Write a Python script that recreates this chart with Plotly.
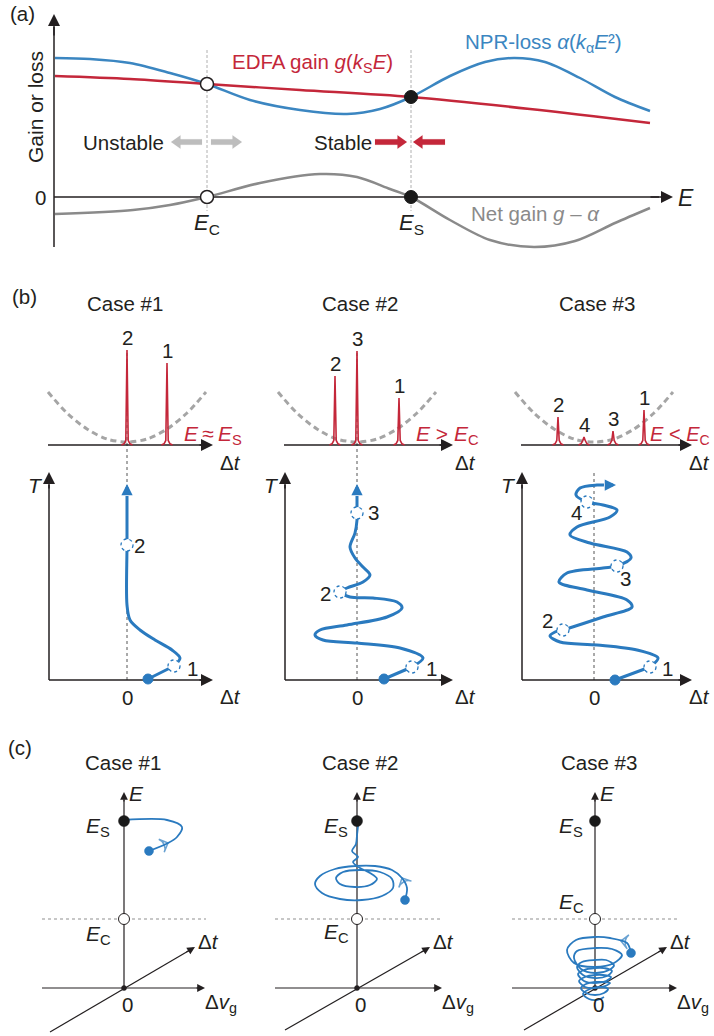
import plotly.graph_objects as go

# ===================== DATA (schematic units) =====================
# ---- Panel (a): gain / loss versus pulse energy E ----
npr_E = [0.1, 3.6, 7.6, 11.6, 15.3, 19.6, 24.6, 29.3, 32.6, 35.7, 39.6, 43.1, 46.0, 49.1, 52.6, 56.1, 59.6]
npr_loss = [13.9, 13.8, 13.4, 12.4, 11.3, 9.7, 8.7, 8.3, 8.8, 10.0, 12.1, 13.5, 13.9, 13.5, 11.9, 10.0, 8.6]
edfa_E = [0.1, 7.6, 15.3, 24.6, 35.7, 47.6, 59.6]
edfa_gain = [12.1, 11.8, 11.3, 10.7, 10.0, 8.8, 7.4]
net_E = [0.1, 7.9, 11.6, 15.3, 20.6, 26.6, 30.3, 33.6, 35.7, 39.6, 43.6, 48.0, 52.1, 56.1, 59.6]
net_gain = [-1.7, -1.3, -0.8, 0.0, 1.4, 2.3, 2.0, 0.8, 0.0, -2.3, -4.3, -5.0, -4.4, -2.6, -1.1]
fixed_E = [15.3, 35.7]          # E_C (unstable), E_S (stable)
fixed_gain = [11.3, 10.0]
fixed_names = ["C", "S"]

# ---- Panel (b): pulse positions in the NPR well and T-evolution of delta-t ----
well_dt = [-7.9, -6.0, -4.0, -2.0, 0.0, 2.0, 4.0, 6.0, 7.9]
well_h = [5.3, 3.2, 1.6, 0.6, 0.3, 0.6, 1.6, 3.2, 5.3]

pulse_dt_1 = [0.0, 4.0]
pulse_h_1 = [9.5, 8.2]
pulse_lab_1 = ["2", "1"]
pulse_dt_2 = [-2.2, 0.0, 4.2]
pulse_h_2 = [6.9, 9.4, 4.7]
pulse_lab_2 = ["2", "3", "1"]
pulse_dt_3 = [-3.6, -1.0, 1.9, 5.0]
pulse_h_3 = [2.8, 0.8, 1.4, 3.5]
pulse_lab_3 = ["2", "4", "3", "1"]
energy_lab = ["<i>E</i>\u2009\u2248\u2009<i>E</i><sub>S</sub>",
              "<i>E</i> > <i>E</i><sub>C</sub>",
              "<i>E</i> < <i>E</i><sub>C</sub>"]

traj_dt_1 = [2.1, 4.7, 5.3, 4.5, 2.8, 1.3, 0.3, 0.0, 0.0, 0.0]
traj_T_1 = [0.1, 1.4, 2.2, 3.0, 4.0, 5.0, 6.0, 7.5, 13.5, 18.4]
traj_dt_2 = [2.7, 5.5, 6.6, 4.3, 0.0, -3.4, -4.2, -3.7, -1.0, 3.0, 4.5, 4.0, 1.6, -0.7, -1.7,
             -1.0, 0.6, 1.3, 0.6, -0.2, -0.7, -0.2, 0.0, 0.0, 0.0]
traj_T_2 = [0.1, 1.3, 2.2, 3.2, 3.7, 4.0, 4.5, 5.0, 5.5, 6.3, 7.2, 7.8, 8.2, 8.3, 8.8,
            9.2, 9.8, 10.5, 11.3, 12.2, 13.3, 14.7, 16.0, 16.7, 18.4]
traj_dt_3 = [2.1, 5.6, 6.4, 4.3, 0.3, -3.4, -4.4, -3.9, -3.1, 0.9, 3.8, 3.3, -0.7, -3.5, -2.7,
             0.9, 2.3, 3.7, 3.3, -0.4, -2.4, -1.7, 1.6, 2.3, 0.9, -0.7, -1.8, -1.4, 0.3, 1.0]
traj_T_3 = [0.0, 1.3, 2.2, 3.0, 3.5, 3.8, 4.4, 4.8, 5.0, 6.3, 7.3, 8.0, 9.0, 9.8, 10.7,
            11.2, 11.4, 12.2, 12.8, 13.7, 14.5, 15.3, 16.3, 17.0, 17.5, 17.8, 18.5, 19.2, 19.5, 19.5]
traj_tip_1 = (0.0, 19.6)
traj_tip_2 = (0.0, 19.6)
traj_tip_3 = (2.2, 19.5)

snap_dt_1 = [4.7, 0.0]
snap_T_1 = [1.4, 13.5]
snap_lab_1 = ["1", "2"]
snap_lab_dt_1 = [6.5, 1.2]
snap_lab_T_1 = [1.2, 13.5]
snap_dt_2 = [5.5, -1.7, 0.0]
snap_T_2 = [1.3, 8.8, 16.7]
snap_lab_2 = ["1", "2", "3"]
snap_lab_dt_2 = [7.4, -3.2, 1.6]
snap_lab_T_2 = [1.2, 8.7, 16.8]
snap_dt_3 = [5.6, -3.1, 2.3, -0.7]
snap_T_3 = [1.3, 5.0, 11.4, 17.8]
snap_lab_3 = ["1", "2", "3", "4"]
snap_lab_dt_3 = [7.3, -4.7, 3.1, -1.8]
snap_lab_T_3 = [1.2, 6.0, 10.2, 16.8]

# ---- Panel (c): phase-space trajectories (delta v_g , E) ----
E_S_level = 16.7
E_C_level = 6.9
phase_v_1 = [2.5, 4.4, 5.3, 5.8, 4.3, 0.0]
phase_E_1 = [13.7, 14.5, 15.1, 16.1, 16.8, 16.8]
phase_v_2 = [4.8, 5.0, 4.5, 3.5, 1.8, -0.2, -2.2, -3.7, -4.2, -3.5, -1.7, 0.5, 2.5, 3.6, 3.5, 2.3,
             0.3, -1.4, -2.1, -1.7, -0.2, 1.3, 2.0, 1.3, 0.3, -0.4, 0.1, -0.5, -0.1, 0.0, 0.1, 0.1]
phase_E_2 = [8.8, 10.0, 11.0, 11.8, 12.2, 12.2, 11.9, 11.2, 10.4, 9.5, 8.9, 8.8, 9.2, 10.0, 10.9, 11.6,
             11.8, 11.6, 11.0, 10.4, 10.1, 10.3, 10.9, 11.5, 12.0, 12.6, 13.1, 13.7, 14.4, 15.3, 16.2, 16.8]
phase_v_3 = [3.6, 3.2, 1.5, 0.0, -1.9, -2.8, -2.1, 0.0, 1.9, 2.7, 1.7, 0.0, -1.8, -2.1, -1.4, 0.0,
             1.4, 1.9, 1.1, 0.0, -1.3, -1.8, -1.2, 0.0, 1.2, 1.7, 0.9, 0.0, -1.1, -1.7, -1.1, 0.0,
             1.1, 1.6, 0.8, 0.0, -1.0, -1.6, -1.0, 0.0, 1.0, 1.5, 0.8, 0.0, -0.9, -1.4, -0.9, 0.0,
             0.9, 1.3, 0.6, -0.5, -1.2, -0.6, 0.2, 0.9]
phase_E_3 = [3.5, 4.5, 5.0, 5.1, 4.8, 3.8, 2.5, 2.1, 2.5, 3.3, 3.9, 4.0, 3.7, 3.0, 1.9, 1.5,
             1.8, 2.3, 2.8, 2.8, 2.6, 2.1, 1.3, 1.0, 1.2, 1.7, 2.0, 2.0, 1.8, 1.4, 0.7, 0.5,
             0.7, 1.1, 1.3, 1.3, 1.1, 0.7, 0.1, 0.0, 0.2, 0.5, 0.6, 0.6, 0.4, 0.0, -0.5, -0.7,
             -0.5, -0.1, 0.1, -0.1, -0.6, -1.1, -1.2, -0.9]
phase_arrow_1 = ([2.5, 4.4], [13.7, 14.5])
phase_arrow_2 = ([5.0, 4.5], [10.0, 11.0])
phase_arrow_3 = ([3.4, 2.6], [4.6, 4.7])

# ===================== STYLE / LAYOUT =====================
FONT = "Liberation Sans, Arial, Helvetica, sans-serif"
INK = "#231f20"
BLUE_A = "#3b86c1"
RED = "#c4273a"
GREY = "#8a8a8a"
TRAJ = "#2a7abf"
FS = 20.5
W, H = 714, 1036
S = 10.0  # pixels per schematic unit (same on both axes)

# axis number: (left, right, top, bottom, origin_x, origin_y) in pixels
panels = {
    1: (0, 714, 0, 262, 54, 197),
    2: (0, 240, 285, 712, 127, 680),
    3: (240, 476, 285, 712, 357, 680),
    4: (476, 714, 285, 712, 594, 680),
    5: (0, 240, 770, 1036, 124, 988),
    6: (240, 476, 770, 1036, 357, 988),
    7: (476, 714, 770, 1036, 595, 988),
}

fig = go.Figure()
layout = dict(width=W, height=H, margin=dict(l=0, r=0, t=0, b=0),
              paper_bgcolor="white", plot_bgcolor="rgba(0,0,0,0)",
              showlegend=False, font=dict(family=FONT, color=INK))
for n, (l, r, t, b, ox, oy) in panels.items():
    sx = "" if n == 1 else str(n)
    layout["xaxis" + sx] = dict(domain=[l / W, r / W], range=[(l - ox) / S, (r - ox) / S],
                               visible=False, fixedrange=True, anchor="y" + sx)
    layout["yaxis" + sx] = dict(domain=[1 - b / H, 1 - t / H], range=[(oy - b) / S, (oy - t) / S],
                               visible=False, fixedrange=True, anchor="x" + sx)

annotations = []
shapes = []


def refs(n):
    return ("x", "y") if n == 1 else (f"x{n}", f"y{n}")


def line(n, xs, ys, color, width, dash=None, spline=False, fill=None, mode="lines"):
    xr, yr = refs(n)
    fig.add_trace(go.Scatter(x=xs, y=ys, xaxis=xr, yaxis=yr, mode=mode, hoverinfo="skip",
                             line=dict(color=color, width=width, dash=dash,
                                       shape="spline" if spline else "linear", smoothing=0.9),
                             fill=fill, fillcolor=color if fill else None))


def markers(n, xs, ys, size, color, lcolor, lwidth=1.2):
    xr, yr = refs(n)
    fig.add_trace(go.Scatter(x=xs, y=ys, xaxis=xr, yaxis=yr, mode="markers", hoverinfo="skip",
                             marker=dict(size=size, color=color, line=dict(color=lcolor, width=lwidth))))


def arrow(n, x0, y0, x1, y1, color=INK, width=1.4, size=1.7, head=2):
    xr, yr = refs(n)
    annotations.append(dict(x=x1, y=y1, ax=x0, ay=y0, xref=xr, yref=yr, axref=xr, ayref=yr,
                            showarrow=True, arrowhead=head, arrowsize=size, arrowwidth=width,
                            arrowcolor=color, text="", standoff=0, startstandoff=0))


def text(n, x, y, s, size=FS, color=INK, xanchor="center", yanchor="middle", angle=0):
    xr, yr = refs(n)
    annotations.append(dict(x=x, y=y, xref=xr, yref=yr, text=s, showarrow=False, textangle=angle,
                            font=dict(size=size, color=color, family=FONT),
                            xanchor=xanchor, yanchor=yanchor))


def ptext(px, py, s, size=FS):
    annotations.append(dict(x=px / W, y=1 - py / H, xref="paper", yref="paper", text=s,
                            showarrow=False, font=dict(size=size, color=INK, family=FONT),
                            xanchor="center", yanchor="middle"))


def block_arrow(n, x_tail, x_tip, y, color):
    d = 1 if x_tip > x_tail else -1
    hl, sw, hw = 0.95, 0.28, 0.68
    xs = [x_tail, x_tip - d * hl, x_tip - d * hl, x_tip, x_tip - d * hl, x_tip - d * hl, x_tail, x_tail]
    ys = [y + sw, y + sw, y + hw, y, y - hw, y - sw, y - sw, y + sw]
    line(n, xs, ys, color, 0.1, fill="toself")


# ===================== PANEL (a) =====================
for e in fixed_E:
    line(1, [e, e], [14.7, -1.4], "#b0b0b0", 1, dash="3px,2px")
line(1, [0, 0], [-5.0, 17.0], INK, 1.5)
arrow(1, 0, 16.0, 0, 18.3, width=1.5, size=1.6)
line(1, [0, 60.5], [0, 0], INK, 1.5)
arrow(1, 59.5, 0, 61.9, 0, width=1.5, size=1.6)
line(1, net_E, net_gain, GREY, 2.5, spline=True)
line(1, npr_E, npr_loss, BLUE_A, 2.5, spline=True)
line(1, edfa_E, edfa_gain, RED, 2.5, spline=True)
markers(1, [fixed_E[0], fixed_E[0]], [fixed_gain[0], 0], 13, "white", INK, 1.5)
markers(1, [fixed_E[1], fixed_E[1]], [fixed_gain[1], 0], 13, "#1a1a1a", "#1a1a1a", 1.0)
block_arrow(1, 14.8, 11.7, 5.5, "#bdbdbd")
block_arrow(1, 15.7, 18.8, 5.5, "#bdbdbd")
block_arrow(1, 32.1, 35.3, 5.5, RED)
block_arrow(1, 39.1, 35.9, 5.5, RED)

text(1, -1.9, 9.0, "Gain or loss", size=21, angle=-90)
text(1, -1.4, 0.0, "0")
text(1, 63.2, -0.1, "<i>E</i>", size=23)
for e, nm in zip(fixed_E, fixed_names):
    text(1, e, -2.7, f"<i>E</i><sub>{nm}</sub>", size=22)
text(1, 25.8, 13.4, "EDFA gain <i>g</i>(<i>k</i><sub>S</sub><i>E</i>)", color=RED)
text(1, 48.9, 15.4, "NPR-loss <i>\u03b1</i>(<i>k</i><sub>\u03b1</sub><i>E</i>\u00b2)", color=BLUE_A)
text(1, 48.1, -1.6, "Net gain <i>g</i> \u2013 <i>\u03b1</i>", color=GREY)
text(1, 6.9, 5.5, "Unstable")
text(1, 28.9, 5.5, "Stable")
ptext(23, 14, "(a)")

# ===================== PANEL (b) =====================
PULSE_DX = [-0.55, -0.3, -0.12, 0.0, 0.12, 0.3, 0.55]
PULSE_FOOT = [0.0, 0.12, 0.45, None, 0.45, 0.12, 0.0]
TOP = 23.5
b_cases = [
    (2, pulse_dt_1, pulse_h_1, pulse_lab_1, traj_dt_1, traj_T_1, traj_tip_1,
     snap_dt_1, snap_T_1, snap_lab_1, snap_lab_dt_1, snap_lab_T_1, -7.8, 8.6, 33.0, 10.3, 8.6),
    (3, pulse_dt_2, pulse_h_2, pulse_lab_2, traj_dt_2, traj_T_2, traj_tip_2,
     snap_dt_2, snap_T_2, snap_lab_2, snap_lab_dt_2, snap_lab_T_2, -7.2, 9.6, 33.0, 10.8, 9.0),
    (4, pulse_dt_3, pulse_h_3, pulse_lab_3, traj_dt_3, traj_T_3, traj_tip_3,
     snap_dt_3, snap_T_3, snap_lab_3, snap_lab_dt_3, snap_lab_T_3, -7.2, 9.8, 21.0, 10.5, 8.6),
]
for i, (n, pdt, ph, plab, tdt, tT, tip, sdt, sT, slab, ldt, lT, xax, xend, zline, dtl, etx) in enumerate(b_cases):
    # zero reference
    line(n, [0, 0], [0, zline], "#555555", 1, dash="dot")
    # upper plot: potential well + pulses
    line(n, [xax - 0.1, xend - 1.0], [TOP, TOP], INK, 1.5)
    arrow(n, xend - 1.5, TOP, xend, TOP, width=1.5, size=1.6)
    line(n, well_dt, [TOP + h for h in well_h], "#a5a5a5", 3, dash="6px,4px", spline=True)
    for x, h, lab in zip(pdt, ph, plab):
        xs = [x + d for d in PULSE_DX]
        ys = [TOP + (h if f is None else f) for f in PULSE_FOOT]
        line(n, xs, ys, RED, 1.6)
        text(n, x, TOP + h + 1.3, lab)
    text(n, dtl, TOP - 1.7, "\u0394<i>t</i>")
    text(n, etx, TOP + 1.0, energy_lab[i], size=21 if i < 2 else 20, color=RED)
    # lower plot: trajectory
    line(n, [xax, xax], [0, 19.5], INK, 1.5)
    arrow(n, xax, 19.0, xax, 20.8, width=1.5, size=1.6)
    line(n, [xax, xend - 1.0], [0, 0], INK, 1.5)
    arrow(n, xend - 1.5, 0, xend, 0, width=1.5, size=1.6)
    text(n, xax - 1.4, 19.5, "<i>T</i>", size=21)
    text(n, 0, -1.7, "0")
    text(n, dtl, -1.6, "\u0394<i>t</i>")
    line(n, tdt[:2], tT[:2], TRAJ, 3)
    line(n, tdt[1:], tT[1:], TRAJ, 3, spline=True)
    arrow(n, tdt[-1], tT[-1], tip[0], tip[1], color=TRAJ, width=3, size=0.75)
    markers(n, [tdt[0]], [tT[0]], 10, TRAJ, TRAJ, 1)
    xr, yr = refs(n)
    for x, y in zip(sdt, sT):
        shapes.append(dict(type="circle", xref=xr, yref=yr, x0=x - 0.6, x1=x + 0.6, y0=y - 0.6, y1=y + 0.6,
                           fillcolor="white", line=dict(color=TRAJ, width=1.3, dash="dot"), layer="above"))
    for s, x, y in zip(slab, ldt, lT):
        text(n, x, y, s)

ptext(24, 296, "(b)")
for px, s in [(125, "Case #1"), (360, "Case #2"), (597, "Case #3")]:
    ptext(px, 303, s)

# ===================== PANEL (c) =====================
c_cases = [
    (5, phase_v_1, phase_E_1, phase_arrow_1, (-8.2, 8.1), (-7.4, -4.4, 7.1, 4.1), -2.6, 5.3),
    (6, phase_v_2, phase_E_2, phase_arrow_2, (-8.2, 8.5), (-7.2, -4.2, 7.3, 4.1), -2.1, 5.5),
    (7, phase_v_3, phase_E_3, phase_arrow_3, (-8.3, 8.2), (-7.1, -4.2, 7.2, 4.1), -2.4, 8.5),
]
for n, pv, pE, parr, hax, dax, lx, ecy in c_cases:
    line(n, [hax[0], hax[1] + 0.1], [E_C_level, E_C_level], "#b5b5b5", 1.5, dash="dot")
    line(n, [0, 0], [0, 18.8], INK, 1.2)
    arrow(n, 0, 18.5, 0, 19.6, width=1.2, size=1.3)
    line(n, [hax[0], hax[1] - 0.6], [0, 0], INK, 1.2)
    arrow(n, hax[1] - 1.0, 0, hax[1], 0, width=1.2, size=1.3)
    line(n, [dax[0], dax[2] - 0.5], [dax[1], dax[3] - 0.3], INK, 1.2)
    arrow(n, dax[2] - 1.0, dax[3] - 0.6, dax[2], dax[3], width=1.2, size=1.3)
    markers(n, [0], [0], 5, INK, INK, 0.5)
    line(n, pv, pE, TRAJ, 1.8, spline=True)
    markers(n, [pv[0]], [pE[0]], 9, TRAJ, TRAJ, 0.5)
    xr, yr = refs(n)
    fig.add_trace(go.Scatter(x=parr[0], y=parr[1], xaxis=xr, yaxis=yr, mode="markers", hoverinfo="skip",
                             marker=dict(symbol="arrow-wide-open", size=[0, 10], angleref="previous",
                                         color=TRAJ, line=dict(color=TRAJ, width=1.5))))
    markers(n, [0], [E_S_level], 11, "#1a1a1a", "#1a1a1a", 0.5)
    markers(n, [0], [E_C_level], 11, "white", INK, 1.0)
    text(n, 1.2, 19.5, "<i>E</i>", size=21)
    text(n, lx, 16.1, "<i>E</i><sub>S</sub>", size=21)
    text(n, lx, ecy, "<i>E</i><sub>C</sub>", size=21)
    text(n, dax[2] + 1.3, dax[3] + 0.6, "\u0394<i>t</i>")
    text(n, hax[1] + 1.6, -1.5, "\u0394<i>v</i><sub>g</sub>")
    text(n, 0.3, -1.6, "0")

ptext(20, 747, "(c)")
for px, s in [(123, "Case #1"), (360, "Case #2"), (599, "Case #3")]:
    ptext(px, 762, s)

layout["annotations"] = annotations
layout["shapes"] = shapes
fig.update_layout(**layout)
fig.write_html("out.html")
